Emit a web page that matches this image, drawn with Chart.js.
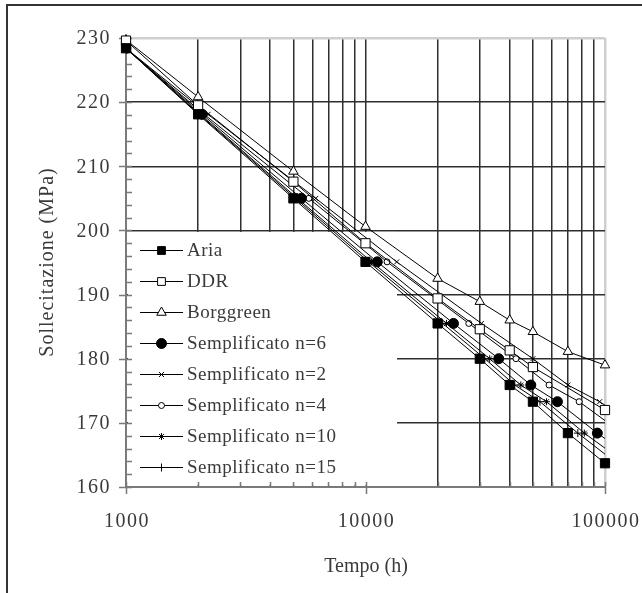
<!DOCTYPE html>
<html lang="it">
<head>
    <meta charset="UTF-8">
    <title>Sollecitazione - Tempo</title>
    <script src="https://cdn.jsdelivr.net/npm/chart.js"></script>
    <style>
        html, body { margin: 0; padding: 0; background: #fff; }
        canvas { display: block; }
    </style>
</head>
<body>
    <canvas id="chart" width="642" height="593"></canvas>

    <script>
        // Dati (tempo in ore, sollecitazione in MPa)
        const ariaTime = [1000, 2000, 5000, 10000, 20000, 30000, 40000, 50000, 70000, 100000];
        const ariaStress = [228.4, 218.1, 205.0, 195.1, 185.5, 180.0, 175.9, 173.3, 168.4, 163.7];

        const ddrTime = [1000, 2000, 5000, 10000, 20000, 30000, 40000, 50000, 100000];
        const ddrStress = [229.6, 219.5, 207.6, 198.0, 189.4, 184.6, 181.3, 178.7, 172.0];

        const borgTime = [1000, 2000, 5000, 10000, 20000, 30000, 40000, 50000, 70000, 100000];
        const borgStress = [229.7, 220.8, 209.2, 200.6, 192.5, 188.9, 186.0, 184.2, 181.1, 179.0];

        // metodo semplificato: stessi livelli di sollecitazione di Aria, tempi stimati
        const sempStress = [228.4, 218.1, 205.0, 195.1, 185.5, 180.0, 175.9, 173.3, 168.4, 163.7];
        const sempN6Time = [1000, 2080, 5400, 11200, 23300, 36000, 49000, 63300, 92900, 140000];
        const sempN2Time = [1000, 2200, 6200, 13500, 30500, 50000, 70000, 95000, 150000, 230000];
        const sempN4Time = [1000, 2120, 5800, 12300, 27000, 42500, 58400, 78000, 118000, 178000];
        const sempN10Time = [1000, 2040, 5200, 10600, 21800, 33000, 44500, 57000, 82000, 122000];
        const sempN15Time = [1000, 2020, 5100, 10300, 21000, 31500, 42000, 53500, 77000, 112000];

        const yTicks = [160, 170, 180, 190, 200, 210, 220, 230];
        const xTicks = [1000, 10000, 100000];
        const xTickLabels = ['1000', '10000', '100000'];
        const xGrid = [1000, 2000, 3000, 4000, 5000, 6000, 7000, 8000, 9000,
                       10000, 20000, 30000, 40000, 50000, 60000, 70000, 80000, 90000, 100000];

        const FONT = '"Liberation Serif", "Times New Roman", serif';
        const TEXT = '#3a3a3a';
        const AXIS = '#7a7a7a';
        const GRID = '#2e2e2e';
        const FRAME = '#cfcfcf';

        function pts(xs, ys) {
            return xs.map((x, i) => ({ x: x, y: ys[i] }));
        }

        // clip: le serie misurate mostrano i marcatori interi sul bordo,
        // le serie semplificate vengono tagliate oltre 100000 h
        const series = [
            { label: 'Aria', data: pts(ariaTime, ariaStress), style: 'rect', r: 6.5, fill: '#000', clip: 8 },
            { label: 'DDR', data: pts(ddrTime, ddrStress), style: 'rect', r: 6.5, fill: '#fff', clip: 8 },
            { label: 'Borggreen', data: pts(borgTime, borgStress), style: 'triangle', r: 5.5, fill: '#fff', clip: 8 },
            { label: 'Semplificato n=6', data: pts(sempN6Time, sempStress), style: 'circle', r: 5, fill: '#000' },
            { label: 'Semplificato n=2', data: pts(sempN2Time, sempStress), style: 'crossRot', r: 3.5, fill: '#000' },
            { label: 'Semplificato n=4', data: pts(sempN4Time, sempStress), style: 'circle', r: 3, fill: '#fff' },
            { label: 'Semplificato n=10', data: pts(sempN10Time, sempStress), style: 'star', r: 3.5, fill: '#000' },
            { label: 'Semplificato n=15', data: pts(sempN15Time, sempStress), style: 'cross', r: 4, fill: '#000' }
        ];

        // riquadro della legenda (copre la griglia ma non le curve)
        const legendBox = { left: 128, right: 397, top: 200, bottom: 160 };

        function drawMarker(ctx, s, x, y, r) {
            ctx.save();
            ctx.fillStyle = s.fill;
            ctx.strokeStyle = '#000';
            ctx.lineWidth = 1;
            if (Chart.helpers && Chart.helpers.drawPoint) {
                Chart.helpers.drawPoint(ctx, { pointStyle: s.style, radius: r, rotation: 0, borderWidth: 1 }, x, y);
            }
            ctx.restore();
        }

        const decorPlugin = {
            id: 'decor',
            beforeDatasetsDraw(chart) {
                const ctx = chart.ctx;
                const xs = chart.scales.x, ys = chart.scales.y;
                const area = chart.chartArea;

                // sfondo bianco della legenda sopra la griglia
                ctx.save();
                ctx.fillStyle = '#fff';
                const top = ys.getPixelForValue(legendBox.top) + 1.5;
                const bot = ys.getPixelForValue(legendBox.bottom) - 1.5;
                ctx.fillRect(legendBox.left, top, legendBox.right - legendBox.left, bot - top);

                // tacche
                ctx.strokeStyle = AXIS;
                ctx.lineWidth = 1.5;
                ctx.beginPath();
                for (let v = 160; v <= 230; v += 2) {
                    const py = Math.round(ys.getPixelForValue(v)) + 0.5;
                    if (v % 10 === 0) {
                        ctx.moveTo(area.left - 7, py);
                        ctx.lineTo(area.left + 6, py);
                    } else {
                        ctx.moveTo(area.left, py);
                        ctx.lineTo(area.left + 6, py);
                    }
                }
                xs.ticks.forEach(t => {
                    const px = Math.round(xs.getPixelForValue(t.value)) + 0.5;
                    if (xTicks.includes(t.value)) {
                        ctx.moveTo(px, area.bottom - 5);
                        ctx.lineTo(px, area.bottom + 7);
                    } else {
                        ctx.moveTo(px, area.bottom);
                        ctx.lineTo(px, area.bottom - 5);
                    }
                });
                ctx.stroke();
                ctx.restore();
            },
            afterDatasetsDraw(chart) {
                const ctx = chart.ctx;
                const xs = chart.scales.x, ys = chart.scales.y;
                ctx.save();
                ctx.fillStyle = TEXT;
                ctx.textBaseline = 'middle';

                // etichette asse y
                ctx.font = '20px ' + FONT;
                ctx.letterSpacing = '1.5px';
                ctx.textAlign = 'right';
                yTicks.forEach(v => {
                    ctx.fillText(String(v), 111, ys.getPixelForValue(v) + 1);
                });
                // etichette asse x
                ctx.textAlign = 'center';
                xTicks.forEach((v, i) => {
                    ctx.fillText(xTickLabels[i], xs.getPixelForValue(v) + 1, 522);
                });

                // titoli assi
                ctx.letterSpacing = '0px';
                ctx.fillText('Tempo (h)', 366, 567);
                ctx.save();
                ctx.translate(48, 262);
                ctx.rotate(-Math.PI / 2);
                ctx.letterSpacing = '1px';
                ctx.fillText('Sollecitazione (MPa)', 0, 0);
                ctx.restore();

                // legenda
                ctx.font = '19px ' + FONT;
                ctx.letterSpacing = '0.5px';
                ctx.textAlign = 'left';
                series.forEach((s, i) => {
                    const y = 250.5 + i * 31;
                    ctx.strokeStyle = '#000';
                    ctx.lineWidth = 1;
                    ctx.beginPath();
                    ctx.moveTo(140, y);
                    ctx.lineTo(183, y);
                    ctx.stroke();
                    drawMarker(ctx, s, 161.5, y, Math.min(s.r, 5.5));
                    ctx.fillStyle = TEXT;
                    ctx.fillText(s.label, 187, y + 1);
                });
                ctx.restore();
            },
            afterDraw(chart) {
                // cornice esterna
                const ctx = chart.ctx;
                ctx.save();
                ctx.strokeStyle = '#333';
                ctx.lineWidth = 2;
                ctx.beginPath();
                ctx.moveTo(7, 593);
                ctx.lineTo(7, 5);
                ctx.lineTo(642, 5);
                ctx.stroke();
                ctx.restore();
            }
        };

        new Chart(document.getElementById('chart'), {
            type: 'scatter',
            data: {
                datasets: series.map(s => {
                    const ds = {
                        label: s.label,
                        data: s.data,
                        showLine: true,
                        borderColor: '#000',
                        borderWidth: 1,
                        backgroundColor: s.fill,
                        pointStyle: s.style,
                        pointRadius: s.r,
                        pointBackgroundColor: s.fill,
                        pointBorderColor: '#000',
                        pointBorderWidth: 1
                    };
                    if (s.clip) ds.clip = s.clip;
                    return ds;
                })
            },
            options: {
                responsive: false,
                animation: false,
                events: [],
                layout: { padding: { left: 0, right: 37, top: 38, bottom: 0 } },
                plugins: {
                    legend: { display: false },
                    tooltip: { enabled: false }
                },
                scales: {
                    x: {
                        type: 'logarithmic',
                        min: 1000,
                        max: 100000,
                        afterBuildTicks: s => { s.ticks = xGrid.map(v => ({ value: v })); },
                        afterFit: s => { s.height = 106; },
                        ticks: { display: false },
                        grid: {
                            drawTicks: false,
                            color: c => c.tick && c.tick.value === 1000 ? AXIS : (c.tick && c.tick.value === 100000 ? FRAME : GRID),
                            lineWidth: c => c.tick && c.tick.value === 100000 ? 2.5 : 1.5
                        },
                        border: { color: AXIS, width: 2 }
                    },
                    y: {
                        min: 160,
                        max: 230,
                        afterFit: s => { s.width = 126; },
                        ticks: { display: false, stepSize: 10 },
                        grid: {
                            drawTicks: false,
                            color: c => c.tick && c.tick.value === 230 ? FRAME : (c.tick && c.tick.value === 160 ? AXIS : GRID),
                            lineWidth: c => c.tick && c.tick.value === 230 ? 2.5 : 1.5
                        },
                        border: { color: AXIS, width: 2 }
                    }
                }
            },
            plugins: [decorPlugin]
        });
    </script>
</body>
</html>
